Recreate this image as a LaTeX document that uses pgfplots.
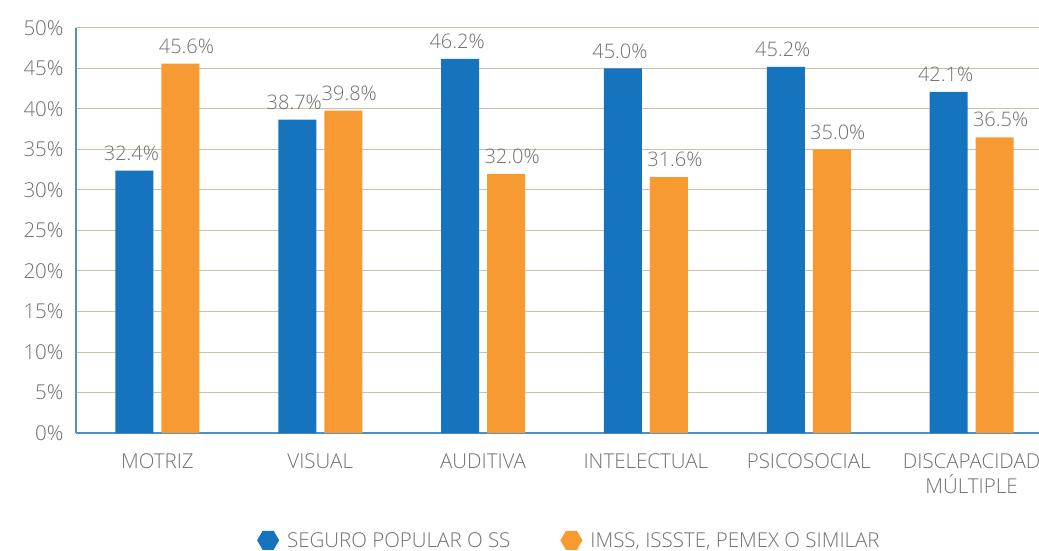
\documentclass[border=0pt]{standalone}
\usepackage{fontspec}
\setmainfont{Open Sans}[UprightFont={* Light}]
\usepackage{pgfplots}
\pgfplotsset{compat=1.18}
\usetikzlibrary{shapes.geometric}
\definecolor{cblue}{HTML}{1674BE}
\definecolor{corange}{HTML}{F79A32}
\definecolor{cgrid}{HTML}{CDBFA8}
\definecolor{caxis}{HTML}{4A90CC}
\definecolor{ctext}{HTML}{707070}
\begin{document}
\begin{tikzpicture}
\begin{axis}[
  scale only axis,
  width=977bp, height=405bp,
  xmin=-0.5, xmax=5.5,
  ymin=0, ymax=50,
  ybar, bar width=38bp,
  axis x line*=bottom, axis y line*=left,
  axis line style={caxis, line width=1.5bp, -},
  ymajorgrids, grid style={cgrid, line width=1bp},
  major tick length=0pt,
  ytick={0,5,...,50},
  yticklabels={0\%,5\%,10\%,15\%,20\%,25\%,30\%,35\%,40\%,45\%,50\%},
  xtick={0,1,2,3,4,5},
  xticklabels={MOTRIZ,VISUAL,AUDITIVA,INTELECTUAL,PSICOSOCIAL,{DISCAPACIDAD\\MÚLTIPLE}},
  xticklabel style={align=center, yshift=-17bp},
  yticklabel style={xshift=-9bp},
  tick label style={font=\fontsize{20.5bp}{25bp}\selectfont, text=ctext},
  /pgf/number format/assume math mode=true,
  nodes near coords={\pgfmathprintnumber[fixed,fixed zerofill,precision=1]{\pgfplotspointmeta}\%},
  nodes near coords style={font=\fontsize{20bp}{23bp}\selectfont, text=ctext, inner sep=0pt, anchor=south, yshift=10bp},
  legend columns=2,
  legend style={draw=none, at={(0.505,-0.265)}, anchor=center, font=\fontsize{20.5bp}{23bp}\selectfont, text=ctext,
    /tikz/every even column/.append style={column sep=48bp},
    /tikz/every odd column/.append style={column sep=6bp}},
]
\addplot[bar shift=-23bp, fill=cblue, draw=none,
  nodes near coords style={xshift=-3bp},
  legend image code/.code={\node[regular polygon, regular polygon sides=6, fill=cblue, minimum size=22bp, inner sep=0pt] at (0,0) {};}]
  coordinates {(0,32.4) (1,38.7) (2,46.2) (3,45.0) (4,45.2) (5,42.1)};
\addlegendentry{SEGURO POPULAR O SS}
\addplot[bar shift=23bp, fill=corange, draw=none,
  nodes near coords style={xshift=6bp},
  legend image code/.code={\node[regular polygon, regular polygon sides=6, fill=corange, minimum size=22bp, inner sep=0pt] at (0,0) {};}]
  coordinates {(0,45.6) (1,39.8) (2,32.0) (3,31.6) (4,35.0) (5,36.5)};
\addlegendentry{IMSS, ISSSTE, PEMEX O SIMILAR}
\coordinate (origin) at (rel axis cs:0,0);
\end{axis}
\pgfresetboundingbox
\path[use as bounding box] ([shift={(-76bp,-118bp)}]origin) rectangle ++(1039bp,551bp);
\end{tikzpicture}
\end{document}
